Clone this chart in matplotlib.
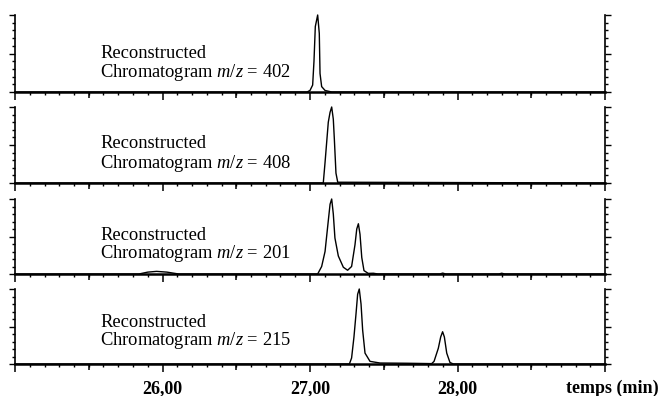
import matplotlib
matplotlib.use("Agg")
import matplotlib.pyplot as plt
from matplotlib.ticker import MultipleLocator, FixedLocator

# reconstructed ion chromatograms, relative intensity
t_402 = [25.0, 26.98, 27.0, 27.018, 27.027, 27.036, 27.052, 27.063, 27.068,
         27.079, 27.102, 27.147, 29.0]
i_402 = [0.0, 0.0, 0.02, 0.09, 0.40, 0.85, 1.0, 0.76, 0.24, 0.07, 0.02, 0.0, 0.0]

t_408 = [25.0, 27.09, 27.102, 27.124, 27.136, 27.147, 27.158, 27.165, 27.176,
         27.188, 29.0]
i_408 = [0.0, 0.0, 0.27, 0.80, 0.93, 1.0, 0.84, 0.58, 0.13, 0.01, 0.0]

t_201 = [25.0, 25.84, 25.90, 25.96, 26.03, 26.11, 27.052, 27.079, 27.102,
         27.124, 27.136, 27.147, 27.158, 27.169, 27.192, 27.226, 27.255,
         27.282, 27.305, 27.317, 27.328, 27.339, 27.351, 27.366, 27.395,
         27.43, 27.46, 27.88, 27.90, 27.92, 28.28, 28.30, 28.32, 29.0]
i_201 = [0.0, 0.0, 0.025, 0.035, 0.025, 0.0, 0.0, 0.10, 0.30,
         0.71, 0.93, 1.0, 0.80, 0.48, 0.24, 0.09, 0.05,
         0.10, 0.39, 0.60, 0.67, 0.53, 0.22, 0.045, 0.008,
         0.01, 0.0, 0.0, 0.012, 0.0, 0.0, 0.01, 0.0, 0.0]

t_215 = [25.0, 27.267, 27.282, 27.298, 27.312, 27.323, 27.334, 27.346, 27.357,
         27.373, 27.407, 27.475, 27.656, 27.825, 27.841, 27.870, 27.886,
         27.899, 27.911, 27.927, 27.949, 27.972, 29.0]
i_215 = [0.0, 0.0, 0.08, 0.36, 0.67, 0.93, 1.0, 0.80, 0.45,
         0.145, 0.035, 0.013, 0.01, 0.005, 0.035, 0.21, 0.36,
         0.43, 0.36, 0.145, 0.02, 0.0, 0.0]

traces = [(t_402, i_402), (t_408, i_408), (t_201, i_201), (t_215, i_215)]
mz_values = [402, 408, 201, 215]
xtick_pos = [25, 26, 27, 28, 29]
xtick_labels = ["", "26,00", "27,00", "28,00", ""]

plt.rcParams["font.family"] = ["Liberation Serif", "DejaVu Serif"]
plt.rcParams["mathtext.fontset"] = "custom"
plt.rcParams["mathtext.it"] = "Liberation Serif:italic"
plt.rcParams["mathtext.rm"] = "Liberation Serif"

fig = plt.figure(figsize=(6.6, 3.96), dpi=100)

# axes boxes in pixels (top, bottom) of the 660x396 reference
boxes = [(15, 92), (107, 183), (199, 274), (289, 364)]
text_y = [(0.506, 0.247), (0.526, 0.263), (0.507, 0.267), (0.547, 0.307)]

for k, ((t, inten), mz, (top, bot)) in enumerate(zip(traces, mz_values, boxes)):
    ax = fig.add_axes([15 / 660, 1 - bot / 396, 590 / 660, (bot - top) / 396])
    ax.plot(t, inten, color="black", lw=1.0, clip_on=False)
    ax.set_xlim(25, 29)
    ax.set_ylim(0, 1)

    ax.spines["top"].set_visible(False)
    ax.spines["bottom"].set_linewidth(1.8)
    ax.spines["left"].set_linewidth(1.2)
    ax.spines["right"].set_linewidth(1.2)

    ax.xaxis.set_major_locator(FixedLocator(xtick_pos))
    ax.xaxis.set_minor_locator(MultipleLocator(0.1))
    ax.yaxis.set_major_locator(FixedLocator([0, 0.5, 1.0]))
    ax.yaxis.set_minor_locator(MultipleLocator(0.1))
    ax.tick_params(axis="x", which="major", direction="out", length=6, width=1.1, pad=5.5)
    ax.tick_params(axis="x", which="minor", direction="out", length=2.2, width=1.0)
    ax.tick_params(axis="y", which="major", direction="out", length=4, width=1.0,
                   left=True, right=True, labelleft=False)
    ax.tick_params(axis="y", which="minor", direction="out", length=2.2, width=1.0,
                   left=True, right=True)

    # medium ticks at the half minutes
    sec = ax.secondary_xaxis("bottom")
    sec.spines["bottom"].set_visible(False)
    sec.set_xticks([25.5, 26.5, 27.5, 28.5])
    sec.tick_params(direction="out", length=4.3, width=1.1, labelbottom=False)

    if k == len(traces) - 1:
        ax.set_xticklabels(xtick_labels, fontsize=13, fontweight="bold")
    else:
        ax.set_xticklabels([])

    ax.text(0.144, text_y[k][0], "Reconstructed", transform=ax.transAxes,
            fontsize=13.3, va="center", ha="left")
    ax.text(0.144, text_y[k][1], f"Chromatogram $m/z$ = {mz}", transform=ax.transAxes,
            fontsize=13.3, va="center", ha="left")

fig.text(612 / 660, 1 - 388 / 396, "temps (min)", fontsize=13, fontweight="bold",
         ha="center", va="center")

fig.savefig("out.png", dpi=100)
